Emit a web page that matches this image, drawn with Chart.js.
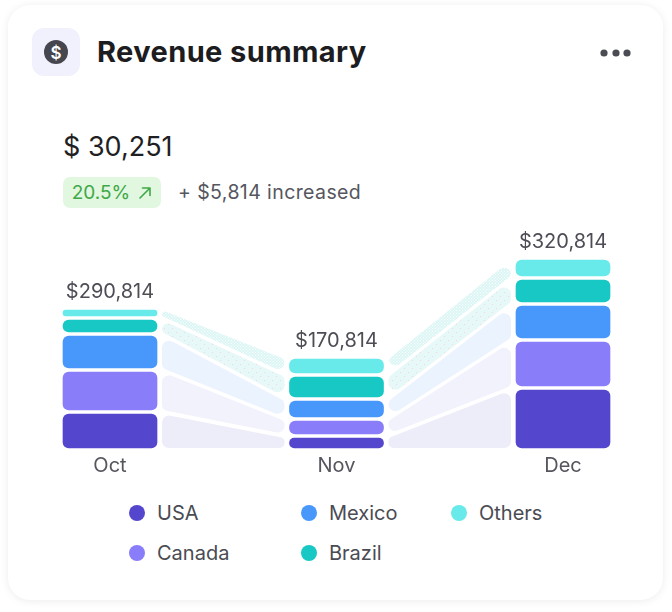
<!DOCTYPE html>
<html>
<head>
<meta charset="utf-8">
<script src="https://cdn.jsdelivr.net/npm/chart.js@4.4.1/dist/chart.umd.min.js"></script>
<style>
  html, body { margin: 0; padding: 0; background: #fff; }
  body { width: 672px; height: 612px; position: relative; overflow: hidden; font-family: Inter, "Open Sans", sans-serif; }
  .card { position: absolute; left: 8px; top: 5px; width: 655px; height: 595px; border-radius: 22px; background: #fff; box-shadow: 0 1px 8px rgba(0,0,0,0.08); }
  .icon { position: absolute; left: 32px; top: 28px; width: 48px; height: 48px; border-radius: 12px; background: #f1f0fd; }
  .title { position: absolute; left: 97px; top: 35px; font-size: 29px; font-weight: 700; color: #1c1c21; line-height: 34px; letter-spacing: 0.4px; white-space: nowrap; }
  .dots { position: absolute; left: 597px; top: 42px; }
  .amount { position: absolute; left: 63px; top: 130px; font-size: 27px; font-weight: 400; color: #1f1f24; line-height: 34px; }
  .badge { position: absolute; left: 63px; top: 177px; width: 98px; height: 31px; border-radius: 7px; background: #e1f7df; color: #3fa847; font-size: 19px; line-height: 31px; display: flex; align-items: center; justify-content: center; gap: 8px; }
  .inc { position: absolute; left: 178px; top: 177px; font-size: 19.5px; line-height: 31px; letter-spacing: 0.4px; color: #55565e; white-space: nowrap; }
  .chartbox { position: absolute; left: 0; top: 220px; width: 672px; height: 262px; }
  .legend-item { position: absolute; font-size: 20px; color: #4a4b53; line-height: 24px; white-space: nowrap; }
  .legend-item span { display: inline-block; width: 16px; height: 16px; border-radius: 50%; margin-right: 12px; vertical-align: -1px; }
</style>
</head>
<body>
<div class="card"></div>
<div class="icon">
  <svg width="48" height="48" viewBox="0 0 48 48">
    <circle cx="24" cy="24" r="12" fill="#45464e"/>
    <text x="24" y="30.5" text-anchor="middle" font-size="17" font-weight="600" fill="#fff" font-family="Inter, sans-serif">$</text>
  </svg>
</div>
<div class="title">Revenue summary</div>
<div class="dots">
  <svg width="40" height="10" viewBox="0 0 40 10">
    <circle cx="7" cy="5" r="3.6" fill="#4a4b53"/>
    <circle cx="19" cy="5" r="3.6" fill="#4a4b53"/>
    <circle cx="30" cy="5" r="3.6" fill="#4a4b53"/>
  </svg>
</div>
<div class="amount">$ 30,251</div>
<div class="badge"><span>20.5%</span>
  <svg width="14" height="14" viewBox="0 0 14 14"><path d="M2 12 L12 2 M4.5 2 H12 V9.5" stroke="#3fa847" stroke-width="1.6" fill="none" stroke-linecap="round" stroke-linejoin="round"/></svg>
</div>
<div class="inc">+ $5,814 increased</div>
<div class="chartbox"><canvas id="mycanvas"></canvas></div>
<div id="legend"></div>

<script>
var months = ['Oct', 'Nov', 'Dec'];
var totals = ['$290,814', '$170,814', '$320,814'];
var countries = ['USA', 'Canada', 'Mexico', 'Brazil', 'Others'];

var usa = [38, 14, 62];
var canada = [42, 17, 48];
var mexico = [36, 20, 36];
var brazil = [16, 24, 26];
var others = [10, 18, 20];

var barColors = ['#5447ce', '#8a7dfa', '#4897fb', '#17c8c4', '#68eaea'];

// legend spots: [left of dot, top]
var legendPos = [[129, 501], [129, 541], [301, 501], [301, 541], [451, 501]];

function dotPattern(base, dot, step, size) {
  var c = document.createElement('canvas');
  c.width = step; c.height = step;
  var g = c.getContext('2d');
  g.fillStyle = base;
  g.fillRect(0, 0, step, step);
  g.fillStyle = dot;
  g.fillRect(0, 0, size, size);
  g.fillRect(step / 2, step / 2, size, size);
  return g.createPattern(c, 'repeat');
}

var flowFills = [
  '#edecf9',
  '#f2f2fd',
  '#ebf3fe',
  dotPattern('#e6f8f7', '#f3d6e0', 8, 1),
  dotPattern('#dcf6f6', '#ffffff', 3, 1)
];

// floating ranges from the stacked values
var series = [usa, canada, mexico, brazil, others];
var running = months.map(function () { return 0; });
var datasets = series.map(function (vals, i) {
  var ranges = vals.map(function (v, j) {
    var r = [running[j], running[j] + v];
    running[j] += v;
    return r;
  });
  return {
    label: countries[i],
    data: ranges,
    backgroundColor: barColors[i],
    borderColor: '#ffffff',
    borderWidth: 2,
    borderSkipped: false,
    borderRadius: 8,
    barThickness: 98,
    grouped: false,
    clip: false
  };
});

function roundPoly(ctx, pts, radii) {
  var n = pts.length;
  var last = pts[n - 1], first = pts[0];
  ctx.beginPath();
  ctx.moveTo((last[0] + first[0]) / 2, (last[1] + first[1]) / 2);
  for (var k = 0; k < n; k++) {
    var p = pts[k], q = pts[(k + 1) % n];
    ctx.arcTo(p[0], p[1], q[0], q[1], radii[k]);
  }
  ctx.closePath();
}

var flows = {
  id: 'flows',
  beforeDatasetsDraw: function (chart) {
    var ctx = chart.ctx;
    ctx.save();
    chart.data.datasets.forEach(function (ds, i) {
      var bars = chart.getDatasetMeta(i).data;
      for (var j = 0; j < bars.length - 1; j++) {
        var a = bars[j], b = bars[j + 1];
        var x1 = a.x + a.width / 2 + 3, x2 = b.x - b.width / 2 - 3;
        var t1 = Math.min(a.y, a.base) + 2, b1 = Math.max(a.y, a.base) - 2;
        var t2 = Math.min(b.y, b.base) + 2, b2 = Math.max(b.y, b.base) - 2;
        var r1 = Math.min(7, (b1 - t1) / 2), r2 = Math.min(7, (b2 - t2) / 2);
        roundPoly(ctx, [[x1, t1], [x2, t2], [x2, b2], [x1, b1]], [r1, r2, r2, r1]);
        ctx.fillStyle = flowFills[i];
        ctx.fill();
      }
    });
    ctx.restore();
  },
  afterDatasetsDraw: function (chart) {
    var ctx = chart.ctx;
    var top = chart.getDatasetMeta(chart.data.datasets.length - 1).data;
    ctx.save();
    ctx.font = '20px Inter, "Open Sans", sans-serif';
    ctx.fillStyle = '#4d4d55';
    ctx.textAlign = 'center';
    ctx.textBaseline = 'alphabetic';
    top.forEach(function (bar, j) {
      ctx.fillText(totals[j], bar.x, Math.min(bar.y, bar.base) - 10);
    });
    ctx.restore();
  }
};

Chart.defaults.font.family = 'Inter, "Open Sans", sans-serif';

var ctx = document.getElementById('mycanvas');
var revenueChart = new Chart(ctx, {
  type: 'bar',
  data: { labels: months, datasets: datasets },
  options: {
    responsive: true,
    maintainAspectRatio: false,
    animation: false,
    layout: { padding: { left: 110, right: 109, top: 20, bottom: 0 } },
    plugins: { legend: { display: false }, tooltip: { enabled: false } },
    scales: {
      x: {
        offset: false,
        grid: { display: false, drawTicks: false },
        border: { display: false },
        ticks: { padding: 4, color: '#55565e', font: { size: 20 } }
      },
      y: { display: false, min: 0, max: 210 }
    }
  },
  plugins: [flows]
});

// html legend
var legend = document.getElementById('legend');
countries.forEach(function (name, i) {
  var item = document.createElement('div');
  item.className = 'legend-item';
  item.style.left = legendPos[i][0] + 'px';
  item.style.top = legendPos[i][1] + 'px';
  item.innerHTML = '<span style="background:' + barColors[i] + '"></span>' + name;
  legend.appendChild(item);
});
</script>
</body>
</html>
